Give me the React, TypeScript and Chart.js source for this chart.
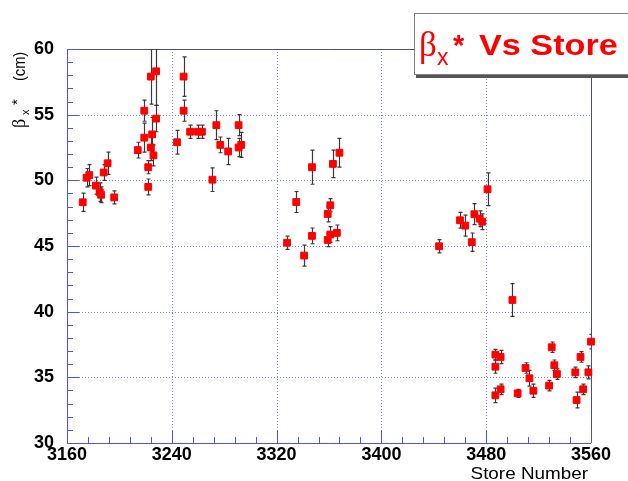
import React, { useEffect, useRef } from 'react';
import Chart from 'chart.js/auto';

// ---- data ----
const stores = [
  3172, 3175, 3177, 3182, 3185, 3186, 3188, 3191, 3196, 3214,
  3219, 3219, 3222, 3222, 3224, 3224, 3225, 3226, 3228, 3228,
  3244, 3249, 3249, 3254, 3260, 3263, 3271, 3274, 3277, 3283,
  3291, 3291, 3293,
  3328, 3335, 3341, 3347, 3347, 3359, 3359, 3361, 3361, 3363,
  3366, 3368,
  3444, 3460, 3464, 3469, 3471, 3475, 3477, 3481,
  3500, 3487, 3491, 3487, 3487, 3491, 3504, 3510, 3513, 3516,
  3528, 3530, 3532, 3534, 3548, 3549, 3552, 3554, 3558, 3560,
];
const betaX = [
  48.33, 50.2, 50.4, 49.6, 49.1, 48.9, 50.6, 51.3, 48.7, 52.3,
  55.3, 53.25, 51.0, 49.5, 57.9, 52.5, 53.5, 51.9, 58.3, 54.7,
  52.9, 57.9, 55.3, 53.7, 53.7, 53.7, 50.05, 54.2, 52.7, 52.2,
  54.2, 52.5, 52.7,
  45.25, 48.35, 44.27, 51.0, 45.77, 45.46, 47.44, 48.1, 45.87, 51.25,
  46.0, 52.1,
  44.98, 46.96, 46.55, 45.29, 47.42, 47.08, 46.85, 49.32,
  40.89, 36.73, 36.55, 35.81, 33.63, 34.09, 33.78, 35.71, 34.93, 33.98,
  34.37, 37.29, 35.92, 35.25, 35.38, 33.27, 36.55, 34.09, 35.38, 37.72,
];
const betaErr = [
  0.7, 0.7, 0.8, 0.65, 0.7, 0.6, 0.6, 0.85, 0.5, 0.6,
  0.8, 1.1, 0.5, 0.6, 2.1, 1.0, 1.3, 0.8, 2.6, 1.0,
  0.9, 1.5, 0.8, 0.5, 0.5, 0.5, 0.9, 1.1, 0.6, 1.0,
  0.8, 0.7, 0.95,
  0.5, 0.8, 0.8, 1.3, 0.6, 0.5, 0.6, 0.5, 0.6, 1.05,
  0.6, 1.1,
  0.5, 0.6, 0.8, 0.7, 0.8, 0.6, 0.6, 1.25,
  1.25, 0.4, 0.5, 0.5, 0.55, 0.4, 0.3, 0.4, 0.6, 0.5,
  0.4, 0.4, 0.4, 0.4, 0.4, 0.6, 0.4, 0.4, 0.5, 0.55,
];
const xTickValues = [3160, 3240, 3320, 3400, 3480, 3560];
const yTickValues = [30, 35, 40, 45, 50, 55, 60];
const xMinorStep = 16;
const yMinorStep = 1;
const chartTitle = 'Vs Store';
const xAxisTitle = 'Store Number';
const yAxisTitle = '(cm)';

const SANS = '"Liberation Sans", Arial, sans-serif';
const SERIF = '"Liberation Serif", "DejaVu Serif", serif';

const decorPlugin = {
  id: 'rootDecor',
  beforeDatasetsDraw(chart: any) {
    const { ctx, chartArea: a, scales } = chart;
    const xs = scales.x;
    const ys = scales.y;
    ctx.save();
    // dotted grid at major ticks
    ctx.strokeStyle = 'rgba(110,110,255,0.9)';
    ctx.lineWidth = 1;
    ctx.setLineDash([1, 2]);
    xTickValues.forEach((v) => {
      const px = Math.round(xs.getPixelForValue(v)) + 0.5;
      if (px <= a.left + 1 || px >= a.right - 1) return;
      ctx.beginPath();
      ctx.moveTo(px, a.top);
      ctx.lineTo(px, a.bottom);
      ctx.stroke();
    });
    yTickValues.forEach((v) => {
      const py = Math.round(ys.getPixelForValue(v)) + 0.5;
      if (py <= a.top + 1 || py >= a.bottom - 1) return;
      ctx.beginPath();
      ctx.moveTo(a.left, py);
      ctx.lineTo(a.right, py);
      ctx.stroke();
    });
    ctx.setLineDash([]);
    // top / right frame
    ctx.strokeStyle = '#4a4a8c';
    ctx.beginPath();
    ctx.moveTo(a.left, Math.round(a.top) + 0.5);
    ctx.lineTo(Math.round(a.right) + 0.5, Math.round(a.top) + 0.5);
    ctx.lineTo(Math.round(a.right) + 0.5, a.bottom);
    ctx.stroke();
    // axes
    ctx.strokeStyle = '#5050f0';
    ctx.beginPath();
    ctx.moveTo(Math.round(a.left) + 0.5, a.top);
    ctx.lineTo(Math.round(a.left) + 0.5, Math.round(a.bottom) + 0.5);
    ctx.lineTo(a.right, Math.round(a.bottom) + 0.5);
    ctx.stroke();
    // y ticks (inside)
    for (let v = ys.min; v <= ys.max + 1e-9; v += yMinorStep) {
      const py = Math.round(ys.getPixelForValue(v)) + 0.5;
      const len = Math.abs(v % 5) < 1e-6 ? 12 : 6;
      ctx.beginPath();
      ctx.moveTo(a.left, py);
      ctx.lineTo(a.left + len, py);
      ctx.stroke();
    }
    // x ticks (inside)
    for (let v = xs.min; v <= xs.max + 1e-9; v += xMinorStep) {
      const px = Math.round(xs.getPixelForValue(v)) + 0.5;
      const len = Math.abs((v - xs.min) % 80) < 1e-6 ? 12 : 6;
      ctx.beginPath();
      ctx.moveTo(px, a.bottom);
      ctx.lineTo(px, a.bottom - len);
      ctx.stroke();
    }
    // error bars
    ctx.beginPath();
    ctx.rect(a.left, a.top, a.right - a.left, a.bottom - a.top);
    ctx.clip();
    ctx.strokeStyle = '#3a3a3a';
    ctx.lineWidth = 1.2;
    stores.forEach((s, i) => {
      const px = Math.round(xs.getPixelForValue(s)) + 0.5;
      const y1 = ys.getPixelForValue(betaX[i] - betaErr[i]);
      const y2 = ys.getPixelForValue(betaX[i] + betaErr[i]);
      ctx.beginPath();
      ctx.moveTo(px, y1);
      ctx.lineTo(px, y2);
      ctx.moveTo(px - 2, y1);
      ctx.lineTo(px + 2, y1);
      ctx.moveTo(px - 2, y2);
      ctx.lineTo(px + 2, y2);
      ctx.stroke();
    });
    ctx.restore();
  },
  afterDraw(chart: any) {
    const { ctx } = chart;
    ctx.save();
    // y axis title (rotated)
    ctx.translate(25, 0);
    ctx.rotate(-Math.PI / 2);
    ctx.fillStyle = '#000';
    ctx.textBaseline = 'alphabetic';
    ctx.textAlign = 'left';
    ctx.font = `18px ${SERIF}`;
    ctx.fillText('β', -128, 0);
    ctx.font = `11px ${SANS}`;
    ctx.fillText('x', -115, 4);
    ctx.font = `15px ${SANS}`;
    ctx.fillText('*', -105, -3);
    ctx.save();
    ctx.translate(-81, 0);
    ctx.scale(0.86, 1);
    ctx.font = `17px ${SANS}`;
    ctx.fillText(yAxisTitle, 0, 0);
    ctx.restore();
    ctx.restore();

    // x axis title
    ctx.save();
    ctx.fillStyle = '#000';
    ctx.textBaseline = 'alphabetic';
    ctx.textAlign = 'right';
    ctx.translate(588, 479);
    ctx.scale(1.11, 1);
    ctx.font = `17px ${SANS}`;
    ctx.fillText(xAxisTitle, 0, 0);
    ctx.restore();

    // title box
    ctx.save();
    ctx.fillStyle = '#555';
    ctx.fillRect(416, 15, 240, 63);
    ctx.fillStyle = '#fff';
    ctx.fillRect(414, 13, 240, 62);
    ctx.strokeStyle = '#808080';
    ctx.lineWidth = 1;
    ctx.strokeRect(414.5, 13.5, 240, 61);
    ctx.fillStyle = '#ff0000';
    ctx.textBaseline = 'alphabetic';
    ctx.textAlign = 'left';
    ctx.font = `35px ${SERIF}`;
    ctx.fillText('β', 419, 56);
    ctx.font = `23px ${SANS}`;
    ctx.fillText('x', 437, 65);
    ctx.font = `bold 29px ${SANS}`;
    ctx.fillText('*', 453, 55);
    ctx.translate(479, 55);
    ctx.scale(1.18, 1);
    ctx.fillText(chartTitle, 0, 0);
    ctx.restore();
  },
};

export default function App() {
  const ref = useRef<HTMLCanvasElement | null>(null);
  useEffect(() => {
    if (!ref.current) return;
    const chart = new Chart(ref.current, {
      type: 'scatter',
      data: {
        datasets: [
          {
            data: stores.map((s, i) => ({ x: s, y: betaX[i] })),
            backgroundColor: '#ff0000',
            borderColor: '#ff0000',
            borderWidth: 1,
            pointStyle: 'rect',
            pointRadius: 4.8,
            pointHoverRadius: 4.8,
            clip: false as any,
          },
        ],
      },
      options: {
        animation: false,
        responsive: false,
        devicePixelRatio: 1,
        events: [],
        layout: { padding: { left: 0, top: 49, right: 37, bottom: 0 } },
        plugins: {
          legend: { display: false },
          tooltip: { enabled: false },
          title: { display: false },
        },
        scales: {
          x: {
            type: 'linear',
            min: 3160,
            max: 3560,
            grid: { display: false },
            border: { display: false },
            afterFit: (s: any) => { s.height = 38; },
            afterBuildTicks: (s: any) => { s.ticks = xTickValues.map((v) => ({ value: v })); },
            ticks: {
              autoSkip: false,
              maxRotation: 0,
              padding: -7,
              color: '#000',
              font: { family: SANS, size: 18, weight: 'bold' },
              callback: (v: any) => String(v),
            },
          },
          y: {
            type: 'linear',
            min: 30,
            max: 60,
            grid: { display: false },
            border: { display: false },
            afterFit: (s: any) => { s.width = 67; },
            afterBuildTicks: (s: any) => { s.ticks = yTickValues.map((v) => ({ value: v })); },
            ticks: {
              autoSkip: false,
              padding: 5,
              color: '#000',
              font: { family: SANS, size: 18, weight: 'bold' },
              callback: (v: any) => String(v),
            },
          },
        },
      },
      plugins: [decorPlugin],
    } as any);
    return () => chart.destroy();
  }, []);
  return (
    <div style={{ position: 'fixed', left: 0, top: 0, width: 628, height: 481, background: '#fff' }}>
      <canvas ref={ref} width={628} height={481} style={{ width: 628, height: 481, display: 'block' }} />
    </div>
  );
}
